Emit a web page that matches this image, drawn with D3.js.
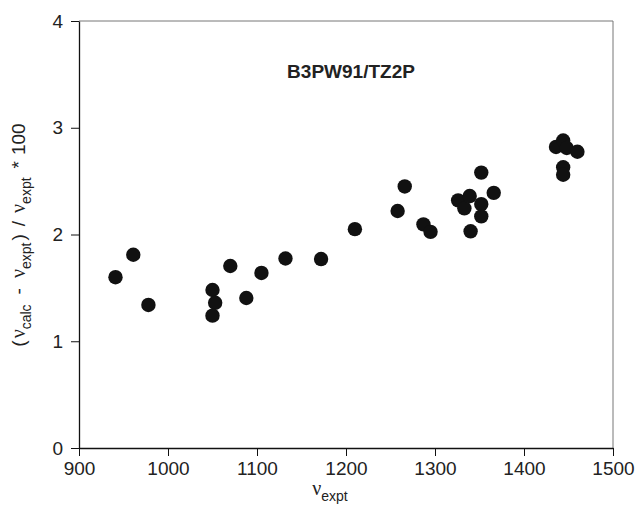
<!DOCTYPE html>
<html>
<head>
<meta charset="utf-8">
<script src="https://cdn.jsdelivr.net/npm/d3@7"></script>
<style>
  body { margin: 0; background: #fff; }
  svg { display: block; font-family: "Liberation Sans", Arial, sans-serif; }
</style>
</head>
<body>
<div id="chart"></div>
<script>
const vExpt = [941, 961, 978, 1050, 1053, 1050, 1070, 1088, 1105, 1132, 1172, 1210,
  1258, 1266, 1287, 1295, 1326, 1333, 1339, 1340, 1352, 1352, 1352, 1366,
  1436, 1444, 1448, 1460, 1444, 1444];
const deviation = [1.60, 1.81, 1.34, 1.48, 1.36, 1.24, 1.705, 1.405, 1.64, 1.775, 1.77, 2.05,
  2.22, 2.45, 2.095, 2.025, 2.32, 2.245, 2.36, 2.03, 2.58, 2.285, 2.17, 2.39,
  2.82, 2.88, 2.81, 2.775, 2.63, 2.56];
const xTicks = [900, 1000, 1100, 1200, 1300, 1400, 1500];
const yTicks = [0, 1, 2, 3, 4];
const title = 'B3PW91/TZ2P';

const width = 636;
const height = 514;
const margin = { top: 21, right: 23, bottom: 66, left: 79 };

const svg = d3.select('#chart')
  .append('svg')
    .attr('width', width)
    .attr('height', height);

const x = d3.scaleLinear()
  .domain([900, 1500])
  .range([margin.left, width - margin.right]);

const y = d3.scaleLinear()
  .domain([0, 4])
  .range([height - margin.bottom, margin.top]);

// frame: top and right in grey
svg.append('path')
  .attr('d', `M${x(900)},${y(4)}H${x(1500)}V${y(0)}`)
  .attr('fill', 'none')
  .attr('stroke', '#777')
  .attr('stroke-width', 1);

const xAxis = svg.append('g')
  .attr('transform', `translate(0,${y(0)})`)
  .call(d3.axisBottom(x).tickValues(xTicks).tickFormat(d3.format('d'))
    .tickSize(8).tickPadding(6).tickSizeOuter(0));

const yAxis = svg.append('g')
  .attr('transform', `translate(${x(900)},0)`)
  .call(d3.axisLeft(y).tickValues(yTicks).tickFormat(d3.format('d'))
    .tickSize(8).tickPadding(8).tickSizeOuter(0));

[xAxis, yAxis].forEach(g => {
  g.select('.domain').attr('stroke', '#111').attr('stroke-width', 1.3);
  g.selectAll('.tick line').attr('stroke', '#111').attr('stroke-width', 1);
  g.selectAll('.tick text')
    .attr('fill', '#222')
    .attr('font-size', '19px')
    .attr('font-family', '"Liberation Sans", Arial, sans-serif');
});

svg.append('g')
  .selectAll('circle')
  .data(vExpt.map((v, i) => [v, deviation[i]]))
  .join('circle')
    .attr('cx', d => x(d[0]))
    .attr('cy', d => y(d[1]))
    .attr('r', 7.2)
    .attr('fill', '#111');

svg.append('text')
  .attr('x', 351)
  .attr('y', 78)
  .attr('text-anchor', 'middle')
  .attr('font-size', '19px')
  .attr('font-weight', 'bold')
  .attr('fill', '#222')
  .text(title);

// x axis label
const xLabel = svg.append('text')
  .attr('x', 330)
  .attr('y', 495)
  .attr('text-anchor', 'middle')
  .attr('fill', '#222')
  .attr('font-size', '20px');
xLabel.append('tspan')
  .attr('font-family', '"Liberation Serif", serif')
  .text('ν');
xLabel.append('tspan')
  .attr('dy', 6)
  .attr('font-size', '14px')
  .text('expt');

// y axis label
const yLabel = svg.append('text')
  .attr('transform', `translate(25,${235}) rotate(-90)`)
  .attr('text-anchor', 'middle')
  .attr('fill', '#222')
  .attr('font-size', '19px');
const parts = [
  ['(', 0, 0, null],
  ['ν', 0, 2, 'serif'],
  ['calc', 6, 0, 'sub'],
  ['-', -6, 10, null],
  ['ν', 0, 10, 'serif'],
  ['expt', 6, 0, 'sub'],
  [')', -6, 2, null],
  ['/', 0, 8, null],
  ['ν', 0, 8, 'serif'],
  ['expt', 6, 0, 'sub'],
  ['*', -6, 9, null],
  ['100', 0, 6, null]
];
parts.forEach(([t, dy, dx, kind]) => {
  const s = yLabel.append('tspan').attr('dy', dy).attr('dx', dx).text(t);
  if (kind === 'serif') s.attr('font-family', '"Liberation Serif", serif').attr('font-size', '20px');
  if (kind === 'sub') s.attr('font-size', '14px');
});
</script>
</body>
</html>
